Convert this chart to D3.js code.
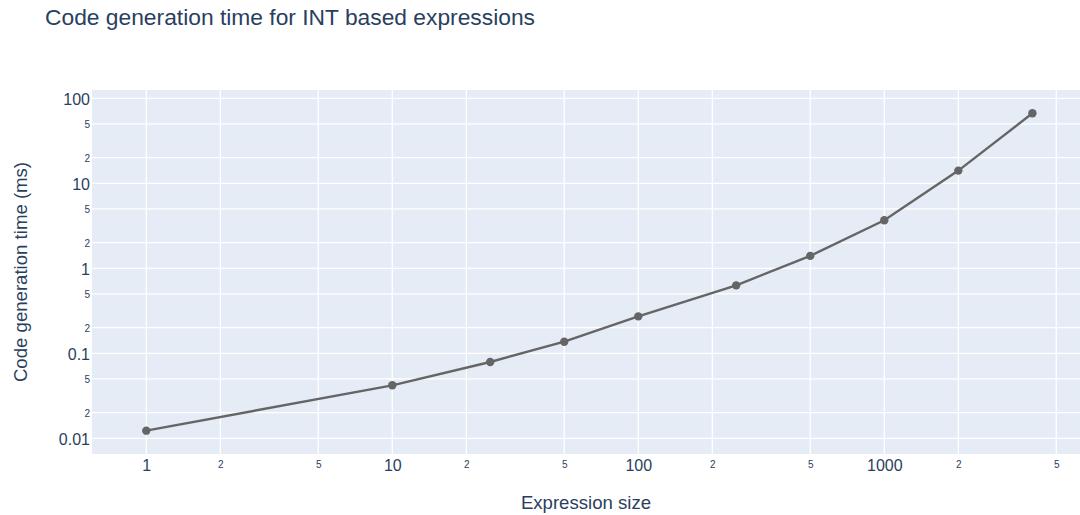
<!DOCTYPE html>
<html>
<head>
<meta charset="utf-8">
<script src="https://cdn.jsdelivr.net/npm/d3@7"></script>
<style>
  body { margin: 0; background: #fff; }
  text { font-family: "Liberation Sans", Arial, sans-serif; fill: #2a3f5f; }
</style>
</head>
<body>
<script>
// datos
var sizes = [1, 10, 25, 50, 100, 250, 500, 1000, 2000, 4000]
var times = [0.0123, 0.042, 0.079, 0.137, 0.272, 0.63, 1.40, 3.67, 14.1, 66.6]

// ticks (mayores con etiqueta grande, menores 2 y 5)
var xMajor = [1, 10, 100, 1000]
var xMinor = [2, 5, 20, 50, 200, 500, 2000, 5000]
var yMajor = [0.01, 0.1, 1, 10, 100]
var yMinor = [0.02, 0.05, 0.2, 0.5, 2, 5, 20, 50]

var W = 1080, H = 515
var m = { left: 92, right: 0, top: 90, bottom: 61 }
var w = W - m.left - m.right
var h = H - m.top - m.bottom

var svg = d3.select("body").append("svg")
  .attr("width", W)
  .attr("height", H)

var x = d3.scaleLog()
  .domain([Math.pow(10, -0.2207), Math.pow(10, 3.7955)])
  .range([0, w])

var y = d3.scaleLog()
  .domain([Math.pow(10, -2.1847), Math.pow(10, 2.0976)])
  .range([h, 0])

var g = svg.append("g").attr("transform", "translate(" + m.left + "," + m.top + ")")

// fondo
g.append("rect")
  .attr("width", w)
  .attr("height", h)
  .attr("fill", "#e5ecf6")

// rejilla
var allX = xMajor.concat(xMinor)
var allY = yMajor.concat(yMinor)

g.selectAll(".gx").data(allX).enter().append("line")
  .attr("x1", function(d) { return x(d) })
  .attr("x2", function(d) { return x(d) })
  .attr("y1", 0)
  .attr("y2", h)
  .attr("stroke", "#fff")
  .attr("stroke-width", 1.3)

g.selectAll(".gy").data(allY).enter().append("line")
  .attr("x1", 0)
  .attr("x2", w)
  .attr("y1", function(d) { return y(d) })
  .attr("y2", function(d) { return y(d) })
  .attr("stroke", "#fff")
  .attr("stroke-width", 1.3)

// eje x
var xAxisMajor = d3.axisBottom(x).tickValues(xMajor).tickSize(0).tickPadding(0)
  .tickFormat(function(d) { return String(d) })
var xAxisMinor = d3.axisBottom(x).tickValues(xMinor).tickSize(0).tickPadding(0)
  .tickFormat(function(d) { return String(d).charAt(0) })

var gxM = g.append("g").attr("transform", "translate(0," + h + ")").call(xAxisMajor)
gxM.selectAll("text").attr("dy", null).attr("y", 17).style("font-size", "16px").attr("fill", "#2a3f5f")
var gxm = g.append("g").attr("transform", "translate(0," + h + ")").call(xAxisMinor)
gxm.selectAll("text").attr("dy", null).attr("y", 13.5).style("font-size", "10px").attr("fill", "#2a3f5f")

// eje y
var yAxisMajor = d3.axisLeft(y).tickValues(yMajor).tickSize(0).tickPadding(2)
  .tickFormat(function(d) { return d3.format("~g")(d) })
var yAxisMinor = d3.axisLeft(y).tickValues(yMinor).tickSize(0).tickPadding(2)
  .tickFormat(function(d) { return d3.format(".0e")(d).charAt(0) })

var gyM = g.append("g").call(yAxisMajor)
gyM.selectAll("text").attr("dy", "0.36em").style("font-size", "16px").attr("fill", "#2a3f5f")
var gym = g.append("g").call(yAxisMinor)
gym.selectAll("text").attr("dy", "0.36em").style("font-size", "10px").attr("fill", "#2a3f5f")

svg.selectAll(".domain").remove()

// linea y puntos
var pts = sizes.map(function(s, i) { return [s, times[i]] })

g.append("path")
  .datum(pts)
  .attr("fill", "none")
  .attr("stroke", "#656565")
  .attr("stroke-width", 2.4)
  .attr("d", d3.line()
    .x(function(d) { return x(d[0]) })
    .y(function(d) { return y(d[1]) }))

g.selectAll(".pt").data(pts).enter().append("circle")
  .attr("cx", function(d) { return x(d[0]) })
  .attr("cy", function(d) { return y(d[1]) })
  .attr("r", 4.2)
  .attr("fill", "#656565")

// titulos
svg.append("text")
  .attr("x", 45)
  .attr("y", 25)
  .style("font-size", "22.8px")
  .text("Code generation time for INT based expressions")

svg.append("text")
  .attr("x", m.left + w / 2)
  .attr("y", 509)
  .attr("text-anchor", "middle")
  .style("font-size", "18.6px")
  .text("Expression size")

svg.append("text")
  .attr("transform", "translate(27," + (m.top + h / 2) + ") rotate(-90)")
  .attr("text-anchor", "middle")
  .style("font-size", "18.6px")
  .text("Code generation time (ms)")
</script>
</body>
</html>
